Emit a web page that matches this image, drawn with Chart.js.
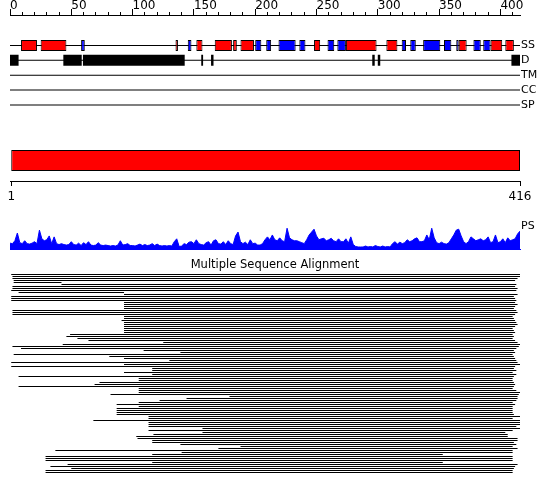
<!DOCTYPE html>
<html><head><meta charset="utf-8">
<script src="https://cdn.jsdelivr.net/npm/chart.js@4.4.0/dist/chart.umd.min.js"></script>
<style>
html,body{margin:0;padding:0;background:#fff;width:550px;height:495px;overflow:hidden;position:relative}
canvas{position:absolute;left:0}
</style></head><body>
<canvas id="rulerMinor" width="550" height="30" style="top:0"></canvas>
<canvas id="rulerMajor" width="550" height="30" style="top:0"></canvas>
<canvas id="tracks" width="550" height="90" style="top:30px"></canvas>
<canvas id="domain" width="550" height="70" style="top:140px"></canvas>
<canvas id="ps" width="550" height="46" style="top:211px"></canvas>
<canvas id="msa" width="550" height="222" style="top:255px"></canvas>
<script>
// ---------- data ----------
const seqLength = 416;
const rulerMajorTicks = [0, 50, 100, 150, 200, 250, 300, 350, 400];
const rulerMinorTicks = [0,10,20,30,40,50,60,70,80,90,100,110,120,130,140,150,160,170,180,190,200,210,220,230,240,250,260,270,280,290,300,310,320,330,340,350,360,370,380,390,400,410];
const endTicks = [1, 416];
const trackNames = ['SS', 'D', 'TM', 'CC', 'SP'];
const helixRanges = [[9,22],[25,46],[135,137],[152,157],[167,181],[182,185],[188,199],[248,253],[274,299],[307,316],[366,372.5],[392,401.5],[404,411]];
const strandRanges = [[58,61],[145,148],[200,205],[209,213],[219,233],[236,241],[259,264.5],[267,274],[319.5,323],[326.5,331],[337,351],[354,360],[364,366],[378,384],[386,392]];
const disorderRanges = [[0,7],[43.5,58.5],[59.5,142.5],[156,157.5],[164,166],[295.5,297.5],[300,302],[409,416]];
const domainRanges = [[1,416]];
const psLabel = 'PS';
const psStep = 2;
const psValues = [6.5,6,9,17,7,6,9,6,5.5,6.5,8,6,20,11,9,10,14,6,13,6,5,6,5,4.5,5,8,5,4.5,6.5,4,7,5,8,4.5,4,4.5,7,4.5,4,4.5,4,3.5,4,3.5,4.5,9,4.5,5,6,4,4,3.5,4.5,5.5,4,5,4,4.5,6,4,5.5,4,3.5,4,3.5,4,3.5,8,11,3,3.5,6,5,7.5,8,6,10,6,5,4.5,7,8,4.5,9,10,6,5.5,8,5,9,6,5,14,18,8,6,7.5,5,10,6,6.5,4.5,4.5,6,10,13,10,15,10,9,12,9,8,22,12,10,9,9,8,7,6,10,15,18,21,14,10,11,11.5,9,10,11.5,9,8,11,8,8,11,6.5,13,5,3,2.5,2.5,2.5,3.5,2.5,3,2.5,4,3,2.5,3.5,2.5,3,2.5,6,8,5.5,7.5,6,7,10,8,9,11,12,8,8,9,15,10,22,12,7,6,7.5,6,5.5,7,11,15,20,21,14,8,6,8,13,11,9,10,11,9,10,13,7,8,15,7,8,11,7,12,9,10,11,16,19];
const msaTitle = 'Multiple Sequence Alignment';
const msaStart = [1,2,2,3,3,42,2,2,1,7,93,1,1,1,93,93,93,93,2,2,2,93,93,91,93,93,93,93,93,93,49,46,55,64,125,43,2,9,109,139,3,81,93,130,1,93,1,116,
  116,93,116,7,105,105,73,69,7,105,105,105,82,179,144,122,105,87,105,87,87,87,87,113,113,68,113,113,113,157,113,157,117,103,104,116,116,139,188,170,37,140,116,29,29,29,116,47,33,50,29,29];
const msaEnd = [416,416,414,412,42,413,412,414,413,93,414,411,412,413,412,414,412,411,413,414,412,410,411,412,413,414,412,410,411,412,410,411,410,412,414,416,415,413,411,412,410,411,412,413,414,416,412,411,
  413,410,413,411,410,410,411,412,411,410,413,416,415,414,414,413,410,412,410,410,410,410,411,416,410,416,416,416,413,416,410,404,406,406,414,414,411,413,410,414,410,410,353,410,410,410,353,414,412,411,410,410];

// ---------- common ----------
Chart.defaults.font.family = "'DejaVu Sans', sans-serif";
Chart.defaults.color = '#000';
Chart.defaults.animation = false;
const base = { responsive: false, animation: false, devicePixelRatio: 1,
  plugins: { legend: { display: false }, tooltip: { enabled: false }, title: { display: false } } };
const barDefaults = { grouped: false, borderSkipped: false, inflateAmount: 0 };

function rulerChart(id, ticks, tickLength, showLabels) {
  return new Chart(document.getElementById(id), {
    type: 'scatter',
    data: { datasets: [] },
    options: Object.assign({}, base, {
      layout: { padding: { left: 10, right: 30, top: 0, bottom: 0 } },
      scales: {
        x: { type: 'linear', position: 'top', min: 0, max: seqLength,
          afterBuildTicks: s => { s.ticks = ticks.map(v => ({ value: v })); },
          afterFit: s => { s.height = 15; },
          grid: { display: true, drawOnChartArea: false, drawTicks: true, tickLength: tickLength, tickColor: '#000', tickWidth: 1 },
          border: { display: true, color: '#000', width: 1 },
          ticks: { display: showLabels, autoSkip: false, maxRotation: 0, align: 'start', padding: -3, color: '#000', font: { size: 12, lineHeight: 1 } }
        },
        y: { display: false, min: 0, max: 1 }
      }
    })
  });
}
rulerChart('rulerMinor', rulerMinorTicks, 3, false);
rulerChart('rulerMajor', rulerMajorTicks, 6, true);

// tracks
new Chart(document.getElementById('tracks'), {
  type: 'bar',
  data: { labels: trackNames, datasets: [
    Object.assign({ label: 'helix', data: helixRanges.map(r => ({ x: r, y: 'SS' })), backgroundColor: '#ff0000', borderColor: '#000', borderWidth: 1, barThickness: 11, order: 1 }, barDefaults),
    Object.assign({ label: 'strand', data: strandRanges.map(r => ({ x: r, y: 'SS' })), backgroundColor: '#0000ff', borderColor: '#000', borderWidth: 1, barThickness: 11, order: 1 }, barDefaults),
    Object.assign({ label: 'disorder', data: disorderRanges.map(r => ({ x: r, y: 'D' })), backgroundColor: '#000', borderWidth: 0, barThickness: 11, order: 1 }, barDefaults),
    Object.assign({ label: 'backbone', data: trackNames.map(n => ({ x: [0, seqLength], y: n })), backgroundColor: '#000', borderWidth: 0, barThickness: 1, order: 2 }, barDefaults)
  ] },
  options: Object.assign({}, base, {
    indexAxis: 'y',
    layout: { padding: { left: 10, right: 0, top: 8, bottom: 7 } },
    scales: {
      x: { type: 'linear', min: 0, max: seqLength, display: false },
      y: { type: 'category', position: 'right', grid: { display: false, drawTicks: false }, border: { display: false },
        ticks: { autoSkip: false, color: '#000', font: { size: 11 }, padding: 1 }, afterFit: s => { s.width = 30; } }
    }
  })
});

// domain bar + bottom ruler
new Chart(document.getElementById('domain'), {
  type: 'bar',
  data: { labels: ['domain'], datasets: [
    Object.assign({ label: 'domain', data: domainRanges.map(r => ({ x: r, y: 'domain' })), backgroundColor: '#ff0000', borderColor: '#000', borderWidth: 1, barThickness: 21 }, barDefaults)
  ] },
  options: Object.assign({}, base, {
    indexAxis: 'y',
    layout: { padding: { left: 10, right: 30, top: 0, bottom: 0 } },
    scales: {
      x: { type: 'linear', position: 'bottom', min: 0, max: seqLength,
        afterBuildTicks: s => { s.ticks = endTicks.map(v => ({ value: v })); },
        afterFit: s => { s.height = 29; },
        grid: { display: true, drawOnChartArea: false, drawTicks: true, tickLength: 5, tickColor: '#000' },
        border: { display: true, color: '#000', width: 1 },
        ticks: { autoSkip: false, maxRotation: 0, padding: 4, color: '#000', font: { size: 12 } }
      },
      y: { type: 'category', display: false }
    }
  })
});

// PS profile
new Chart(document.getElementById('ps'), {
  type: 'line',
  data: { datasets: [{ label: psLabel, data: psValues.map((v, i) => ({ x: i * psStep, y: v })),
    fill: 'origin', backgroundColor: '#0000ff', borderColor: '#0000ff', borderWidth: 1, pointRadius: 0, tension: 0 }] },
  options: Object.assign({}, base, {
    layout: { padding: { left: 10, right: 0, top: 7, bottom: 0 } },
    scales: {
      x: { type: 'linear', position: 'bottom', min: 0, max: seqLength,
        ticks: { display: false }, grid: { display: false, drawTicks: false },
        border: { display: true, color: '#0000ff', width: 1 }, afterFit: s => { s.height = 7; } },
      y: { type: 'linear', position: 'right', min: 0, max: 32,
        afterBuildTicks: s => { s.ticks = [{ value: 24 }]; },
        ticks: { callback: () => psLabel, color: '#000', font: { size: 11 }, padding: 1 },
        grid: { display: false, drawTicks: false }, border: { display: false },
        afterFit: s => { s.width = 30; } }
    }
  })
});

// MSA
const msaRows = msaStart.map((_, i) => 'seq' + (i + 1));
new Chart(document.getElementById('msa'), {
  type: 'bar',
  data: { labels: msaRows, datasets: [
    Object.assign({ label: 'alignment', data: msaStart.map((s, i) => ({ x: [s, msaEnd[i]], y: msaRows[i] })), backgroundColor: '#000', borderWidth: 0, barThickness: 1 }, barDefaults)
  ] },
  options: Object.assign({}, base, {
    indexAxis: 'y',
    layout: { padding: { left: 10, right: 10, top: 0, bottom: 3.5 } },
    plugins: { legend: { display: false }, tooltip: { enabled: false },
      title: { display: true, text: msaTitle, color: '#000', font: { size: 11.5, weight: 'normal', lineHeight: 1.2 }, padding: { top: 3.5, bottom: 1.2 } } },
    scales: {
      x: { type: 'linear', min: 0, max: seqLength, display: false },
      y: { type: 'category', position: 'right', ticks: { display: false }, grid: { display: false, drawTicks: false }, border: { display: false },
        afterFit: s => { s.width = 20; } }
    }
  })
});
</script>
</body></html>
